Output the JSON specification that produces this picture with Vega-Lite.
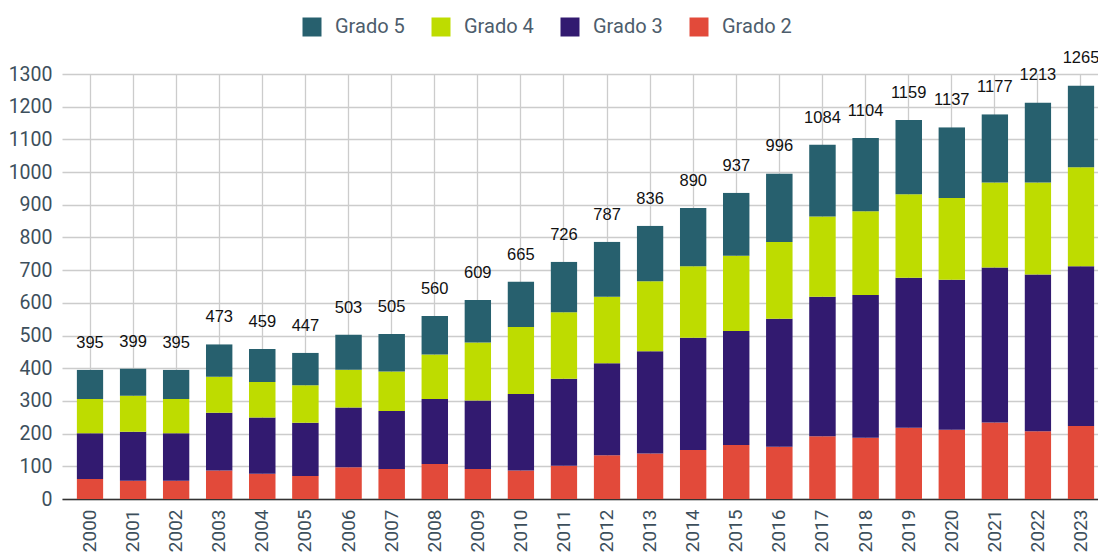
{
  "$schema": "https://vega.github.io/schema/vega-lite/v6.json",
  "autosize": {"type": "none"},
  "width": 1047,
  "height": 425,
  "padding": {"left": 62, "top": 74, "right": -11, "bottom": 53},
  "background": "white",
  "config": {
    "view": {"stroke": null},
    "font": "Roboto"
  },
  "data": {
    "values": [
      {"year": "2000", "Grado 2": 61, "Grado 3": 140, "Grado 4": 105, "Grado 5": 89},
      {"year": "2001", "Grado 2": 56, "Grado 3": 150, "Grado 4": 110, "Grado 5": 83},
      {"year": "2002", "Grado 2": 56, "Grado 3": 145, "Grado 4": 105, "Grado 5": 89},
      {"year": "2003", "Grado 2": 87, "Grado 3": 177, "Grado 4": 110, "Grado 5": 99},
      {"year": "2004", "Grado 2": 77, "Grado 3": 172, "Grado 4": 109, "Grado 5": 101},
      {"year": "2005", "Grado 2": 70, "Grado 3": 163, "Grado 4": 115, "Grado 5": 99},
      {"year": "2006", "Grado 2": 97, "Grado 3": 183, "Grado 4": 115, "Grado 5": 108},
      {"year": "2007", "Grado 2": 92, "Grado 3": 177, "Grado 4": 121, "Grado 5": 115},
      {"year": "2008", "Grado 2": 107, "Grado 3": 199, "Grado 4": 136, "Grado 5": 118},
      {"year": "2009", "Grado 2": 92, "Grado 3": 209, "Grado 4": 178, "Grado 5": 130},
      {"year": "2010", "Grado 2": 87, "Grado 3": 234, "Grado 4": 205, "Grado 5": 139},
      {"year": "2011", "Grado 2": 102, "Grado 3": 266, "Grado 4": 203, "Grado 5": 155},
      {"year": "2012", "Grado 2": 134, "Grado 3": 281, "Grado 4": 204, "Grado 5": 168},
      {"year": "2013", "Grado 2": 139, "Grado 3": 313, "Grado 4": 214, "Grado 5": 170},
      {"year": "2014", "Grado 2": 150, "Grado 3": 343, "Grado 4": 219, "Grado 5": 178},
      {"year": "2015", "Grado 2": 165, "Grado 3": 349, "Grado 4": 230, "Grado 5": 193},
      {"year": "2016", "Grado 2": 160, "Grado 3": 391, "Grado 4": 235, "Grado 5": 210},
      {"year": "2017", "Grado 2": 192, "Grado 3": 427, "Grado 4": 245, "Grado 5": 220},
      {"year": "2018", "Grado 2": 187, "Grado 3": 437, "Grado 4": 256, "Grado 5": 224},
      {"year": "2019", "Grado 2": 218, "Grado 3": 459, "Grado 4": 255, "Grado 5": 227},
      {"year": "2020", "Grado 2": 212, "Grado 3": 459, "Grado 4": 250, "Grado 5": 216},
      {"year": "2021", "Grado 2": 234, "Grado 3": 474, "Grado 4": 260, "Grado 5": 209},
      {"year": "2022", "Grado 2": 207, "Grado 3": 480, "Grado 4": 281, "Grado 5": 245},
      {"year": "2023", "Grado 2": 223, "Grado 3": 489, "Grado 4": 303, "Grado 5": 250}
    ]
  },
  "transform": [
    {"fold": ["Grado 2", "Grado 3", "Grado 4", "Grado 5"], "as": ["grado", "n"]}
  ],
  "encoding": {
    "x": {
      "field": "year",
      "type": "ordinal",
      "scale": {"paddingInner": 0.38, "paddingOuter": 0.34},
      "axis": {
        "title": null,
        "labelAngle": 270,
        "labelFont": "Roboto",
        "labelFontSize": 19,
        "labelColor": "#3d4f5c",
        "labelPadding": 10,
        "labelOverlap": false,
        "ticks": false,
        "domainColor": "#333333",
        "domainWidth": 1.5,
        "grid": true,
        "gridColor": "#cccccc",
        "gridWidth": 1.3,
        "bandPosition": 0.5
      }
    }
  },
  "layer": [
    {
      "mark": {
        "type": "bar",
        "cornerRadiusTopLeft": {"expr": "datum.grado === 'Grado 5' ? 3 : 0"},
        "cornerRadiusTopRight": {"expr": "datum.grado === 'Grado 5' ? 3 : 0"}
      },
      "encoding": {
        "y": {
          "field": "n",
          "type": "quantitative",
          "stack": "zero",
          "scale": {"domain": [0, 1300], "nice": false},
          "axis": {
            "title": null,
            "values": [0, 100, 200, 300, 400, 500, 600, 700, 800, 900, 1000, 1100, 1200, 1300],
            "tickCount": 30,
            "format": "d",
            "labelOverlap": false,
            "labelFont": "Roboto",
            "labelFontSize": 19.5,
            "labelColor": "#3d4f5c",
            "labelPadding": 10,
            "ticks": false,
            "domain": false,
            "gridColor": "#cccccc",
            "gridWidth": 1.3
          }
        },
        "color": {
          "field": "grado",
          "type": "nominal",
          "scale": {
            "domain": ["Grado 5", "Grado 4", "Grado 3", "Grado 2"],
            "range": ["#27606e", "#bedc00", "#321a70", "#e24a3a"]
          },
          "legend": {
            "title": null,
            "orient": "none",
            "direction": "horizontal",
            "legendX": 240,
            "legendY": -57,
            "symbolType": "square",
            "symbolSize": 361,
            "symbolStrokeWidth": 0,
            "labelFont": "Roboto",
            "labelFontSize": 20,
            "labelColor": "#4d5d6c",
            "labelOffset": 13,
            "columnPadding": 26
          }
        },
        "order": {"field": "grado", "sort": "ascending"}
      }
    },
    {
      "mark": {
        "type": "text",
        "font": "Liberation Sans",
        "fontSize": 16.5,
        "color": "#111111",
        "baseline": "alphabetic",
        "dy": -22
      },
      "encoding": {
        "y": {
          "aggregate": "sum",
          "field": "n",
          "type": "quantitative",
          "axis": {
            "title": null,
            "values": [0, 100, 200, 300, 400, 500, 600, 700, 800, 900, 1000, 1100, 1200, 1300],
            "tickCount": 30,
            "format": "d",
            "labelOverlap": false,
            "labelFont": "Roboto",
            "labelFontSize": 19.5,
            "labelColor": "#3d4f5c",
            "labelPadding": 10,
            "ticks": false,
            "domain": false,
            "gridColor": "#cccccc",
            "gridWidth": 1.3
          }
        },
        "text": {"aggregate": "sum", "field": "n", "type": "quantitative"}
      }
    }
  ]
}
